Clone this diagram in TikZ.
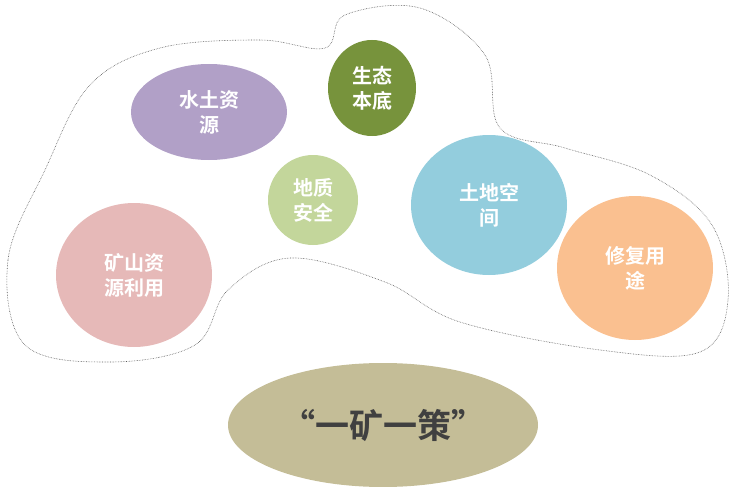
\documentclass[tikz,border=0pt]{standalone}
\usepackage{fontspec}
\newfontfamily\cjk{Noto Sans CJK SC Bold}
\begin{document}
\begin{tikzpicture}[x=1pt,y=-1pt,
  bub/.style={fill=#1,draw=none},
  lbl/.style={text=white,font=\cjk\fontsize{20}{25}\selectfont,align=center}]
\useasboundingbox (0,0) rectangle (737,487);
\definecolor{cpur}{HTML}{B1A0C7}
\definecolor{cgrn}{HTML}{77933C}
\definecolor{clgr}{HTML}{C3D69B}
\definecolor{cblu}{HTML}{93CDDD}
\definecolor{cora}{HTML}{FAC090}
\definecolor{cpnk}{HTML}{E6B9B8}
\definecolor{ckha}{HTML}{C4BD97}
\draw[densely dotted,black!65,line width=0.6pt] plot[smooth cycle,tension=0.6] coordinates {
(25,345)(8,260)(45,170)(90,85)(160,48)(260,40)(325,48)(345,15)(420,8)(485,55)(500,128)(565,148)(650,175)(712,225)(728,300)(700,352)(600,350)(460,322)(385,282)(290,258)(228,290)(195,345)(110,362)};
\fill[bub=cpur] (209,112) ellipse[x radius=78,y radius=48];
\node[lbl] (a) at (209,112) {水土资\\源};
\fill[bub=cgrn] (372,88) ellipse[x radius=44,y radius=48];
\node[lbl] (b) at (372,88) {生态\\本底};
\fill[bub=clgr] (313,200) ellipse[x radius=45,y radius=45];
\node[lbl] (c) at (313,200) {地质\\安全};
\fill[bub=cblu] (489,205) ellipse[x radius=78,y radius=70];
\node[lbl] (d) at (489,205) {土地空\\间};
\fill[bub=cora] (635,268) ellipse[x radius=78,y radius=72];
\node[lbl] (e) at (635,268) {修复用\\途};
\fill[bub=cpnk] (134,275) ellipse[x radius=78,y radius=72];
\node[lbl] (f) at (134,275) {矿山资\\源利用};
\fill[bub=ckha] (383,425) ellipse[x radius=155,y radius=62];
\node[text=black!75,font=\cjk\fontsize{34}{38}\selectfont] (g) at (383,425) {“一矿一策”};
\end{tikzpicture}
\end{document}
